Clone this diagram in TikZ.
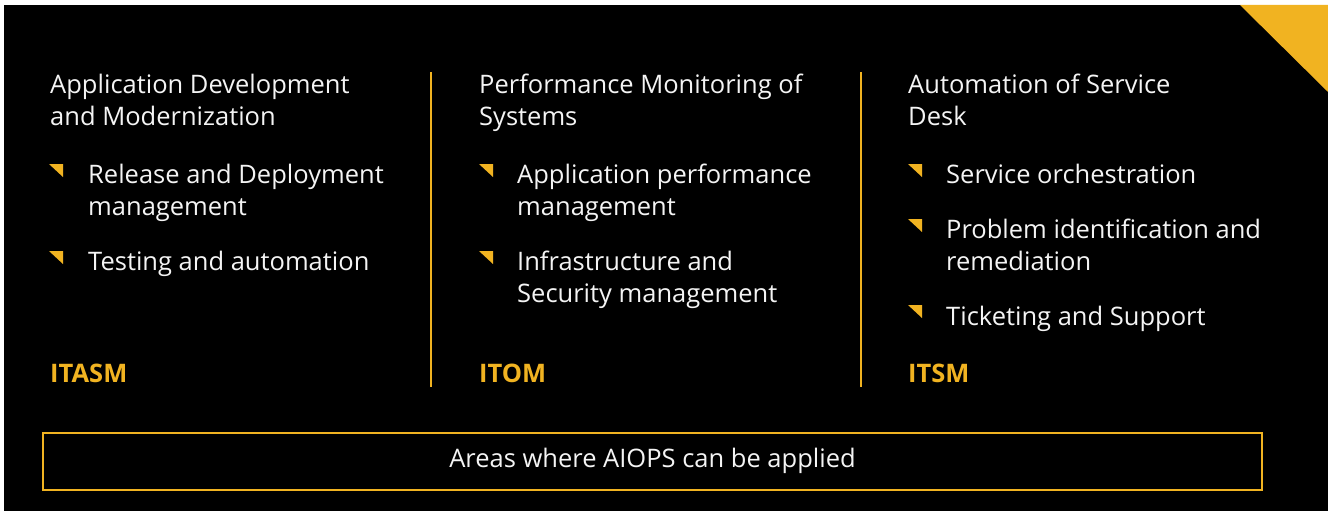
\documentclass[tikz,border=0pt]{standalone}
\usepackage{fontspec}
\setmainfont{Open Sans}
\definecolor{ibmyellow}{HTML}{F1B321}
\definecolor{offwhite}{HTML}{F4F4F4}
\begin{document}
\begin{tikzpicture}[x=1pt,y=-1pt,
  txt/.style={anchor=base west,inner sep=0pt,text=offwhite,align=left,
    font=\fontsize{25.5}{32}\selectfont},
  head/.style={txt},
  tag/.style={anchor=base west,inner sep=0pt,text=ibmyellow,
    font=\fontsize{25.5}{30}\selectfont\bfseries},
  divider/.style={draw=ibmyellow,line width=2pt},
  bullet/.style={fill=ibmyellow}]
\useasboundingbox (0,0) rectangle (1328,511);
\fill[white] (0,0) rectangle (1328,511);
\fill[black] (4,5) rectangle (1328,511);
\fill[ibmyellow] (1240,5) -- (1328,5) -- (1328,92) -- cycle;

% column 1 (anchor = baseline of last line)
\node[head] (h1) at (50,125) {Application Development\\and Modernization};
\fill[bullet] (49,164) -- (63,164) -- (63,177) -- cycle;
\node[txt] (b11) at (88,215) {Release and Deployment\\management};
\fill[bullet] (49,251) -- (63,251) -- (63,264) -- cycle;
\node[txt] (b12) at (88,270) {Testing and automation};
\node[tag] (t1) at (50,382) {ITASM};

\draw[divider] (431,72) -- (431,387);

% column 2
\node[head] (h2) at (479,125) {Performance Monitoring of\\Systems};
\fill[bullet] (479,164) -- (493,164) -- (493,177) -- cycle;
\node[txt] (b21) at (517,215) {Application performance\\management};
\fill[bullet] (479,251) -- (493,251) -- (493,264) -- cycle;
\node[txt] (b22) at (517,302) {Infrastructure and\\Security management};
\node[tag] (t2) at (479,382) {ITOM};

\draw[divider] (861,72) -- (861,387);

% column 3
\node[head] (h3) at (908,125) {Automation of Service\\Desk};
\fill[bullet] (908,164) -- (922,164) -- (922,177) -- cycle;
\node[txt] (b31) at (946,183) {Service orchestration};
\fill[bullet] (908,219) -- (922,219) -- (922,232) -- cycle;
\node[txt] (b32) at (946,270) {Problem identification and\\remediation};
\fill[bullet] (908,305) -- (922,305) -- (922,318) -- cycle;
\node[txt] (b33) at (946,325) {Ticketing and Support};
\node[tag] (t3) at (908,382) {ITSM};

% bottom box
\node[draw=ibmyellow,line width=2pt,minimum width=1219pt,minimum height=57pt,
  inner sep=0pt] (areas) at (652.5,461.5) {};
\node[anchor=base,inner sep=0pt,text=offwhite,font=\fontsize{25.5}{30}\selectfont]
  (areastxt) at (652.5,467) {Areas where AIOPS can be applied};
\end{tikzpicture}
\end{document}
